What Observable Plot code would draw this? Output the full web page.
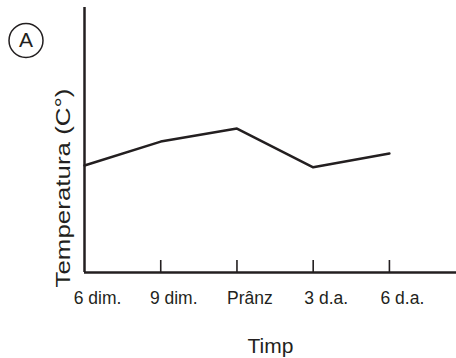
<!DOCTYPE html>
<html>
<head>
<meta charset="utf-8">
<script src="https://cdn.jsdelivr.net/npm/d3@7"></script>
<script src="https://cdn.jsdelivr.net/npm/@observablehq/plot@0.6"></script>
<style>
  html, body { margin: 0; padding: 0; background: #fff; }
  svg { display: block; font-family: "Liberation Sans", Arial, sans-serif; }
</style>
</head>
<body>
<div id="chart"></div>
<script>
// Data
const timeLabels = ["6 dim.", "9 dim.", "Prânz", "3 d.a.", "6 d.a."];
const temperatures = [40.4, 49.4, 54.3, 39.7, 44.9];
const xTitle = "Timp";
const yTitle = "Temperatura (C°)";
const panelLabel = "A";

const data = timeLabels.map((label, i) => ({i, label, temp: temperatures[i]}));
const tickIdx = data.slice(1).map(d => d.i);
const ink = "#231f20";

const chart = Plot.plot({
  width: 456,
  height: 358,
  marginLeft: 84,
  marginRight: 0,
  marginTop: 7,
  marginBottom: 86,
  x: {type: "linear", domain: [0, 4.88], axis: null},
  y: {domain: [0, 100], axis: null},
  marks: [
    Plot.ruleX([0], {stroke: ink, strokeWidth: 2.5}),
    Plot.ruleY([0], {stroke: ink, strokeWidth: 2.5}),
    Plot.ruleX(tickIdx, {x: d => d, stroke: ink, strokeWidth: 1.6, insetTop: 253}),
    Plot.line(data, {x: "i", y: "temp", stroke: ink, strokeWidth: 2.5}),
    Plot.text(data, {x: "i", text: "label", frameAnchor: "bottom", dx: 13, dy: 19, lineAnchor: "top", textAnchor: "middle", fontSize: 17.5, fill: ink}),
    Plot.text([xTitle], {frameAnchor: "bottom", dy: 73.5, lineAnchor: "middle", textAnchor: "middle", fontSize: 21, fill: ink}),
    Plot.text([yTitle], {frameAnchor: "left", dx: -21, dy: 48, rotate: -90, lineAnchor: "middle", textAnchor: "middle", fontSize: 21, fill: ink, className: "ytitle"}),
    Plot.dot([panelLabel], {frameAnchor: "top-left", dx: 25.5 - 84, dy: 40 - 7, r: 17, stroke: ink, strokeWidth: 1.5, fill: "none"}),
    Plot.text([panelLabel], {frameAnchor: "top-left", dx: 25.5 - 84, dy: 40 - 7, lineAnchor: "middle", textAnchor: "middle", fontSize: 21, fill: ink})
  ]
});
document.getElementById("chart").appendChild(chart);
d3.select(chart).selectAll(".ytitle text").attr("textLength", 199).attr("lengthAdjust", "spacingAndGlyphs");
</script>
</body>
</html>
